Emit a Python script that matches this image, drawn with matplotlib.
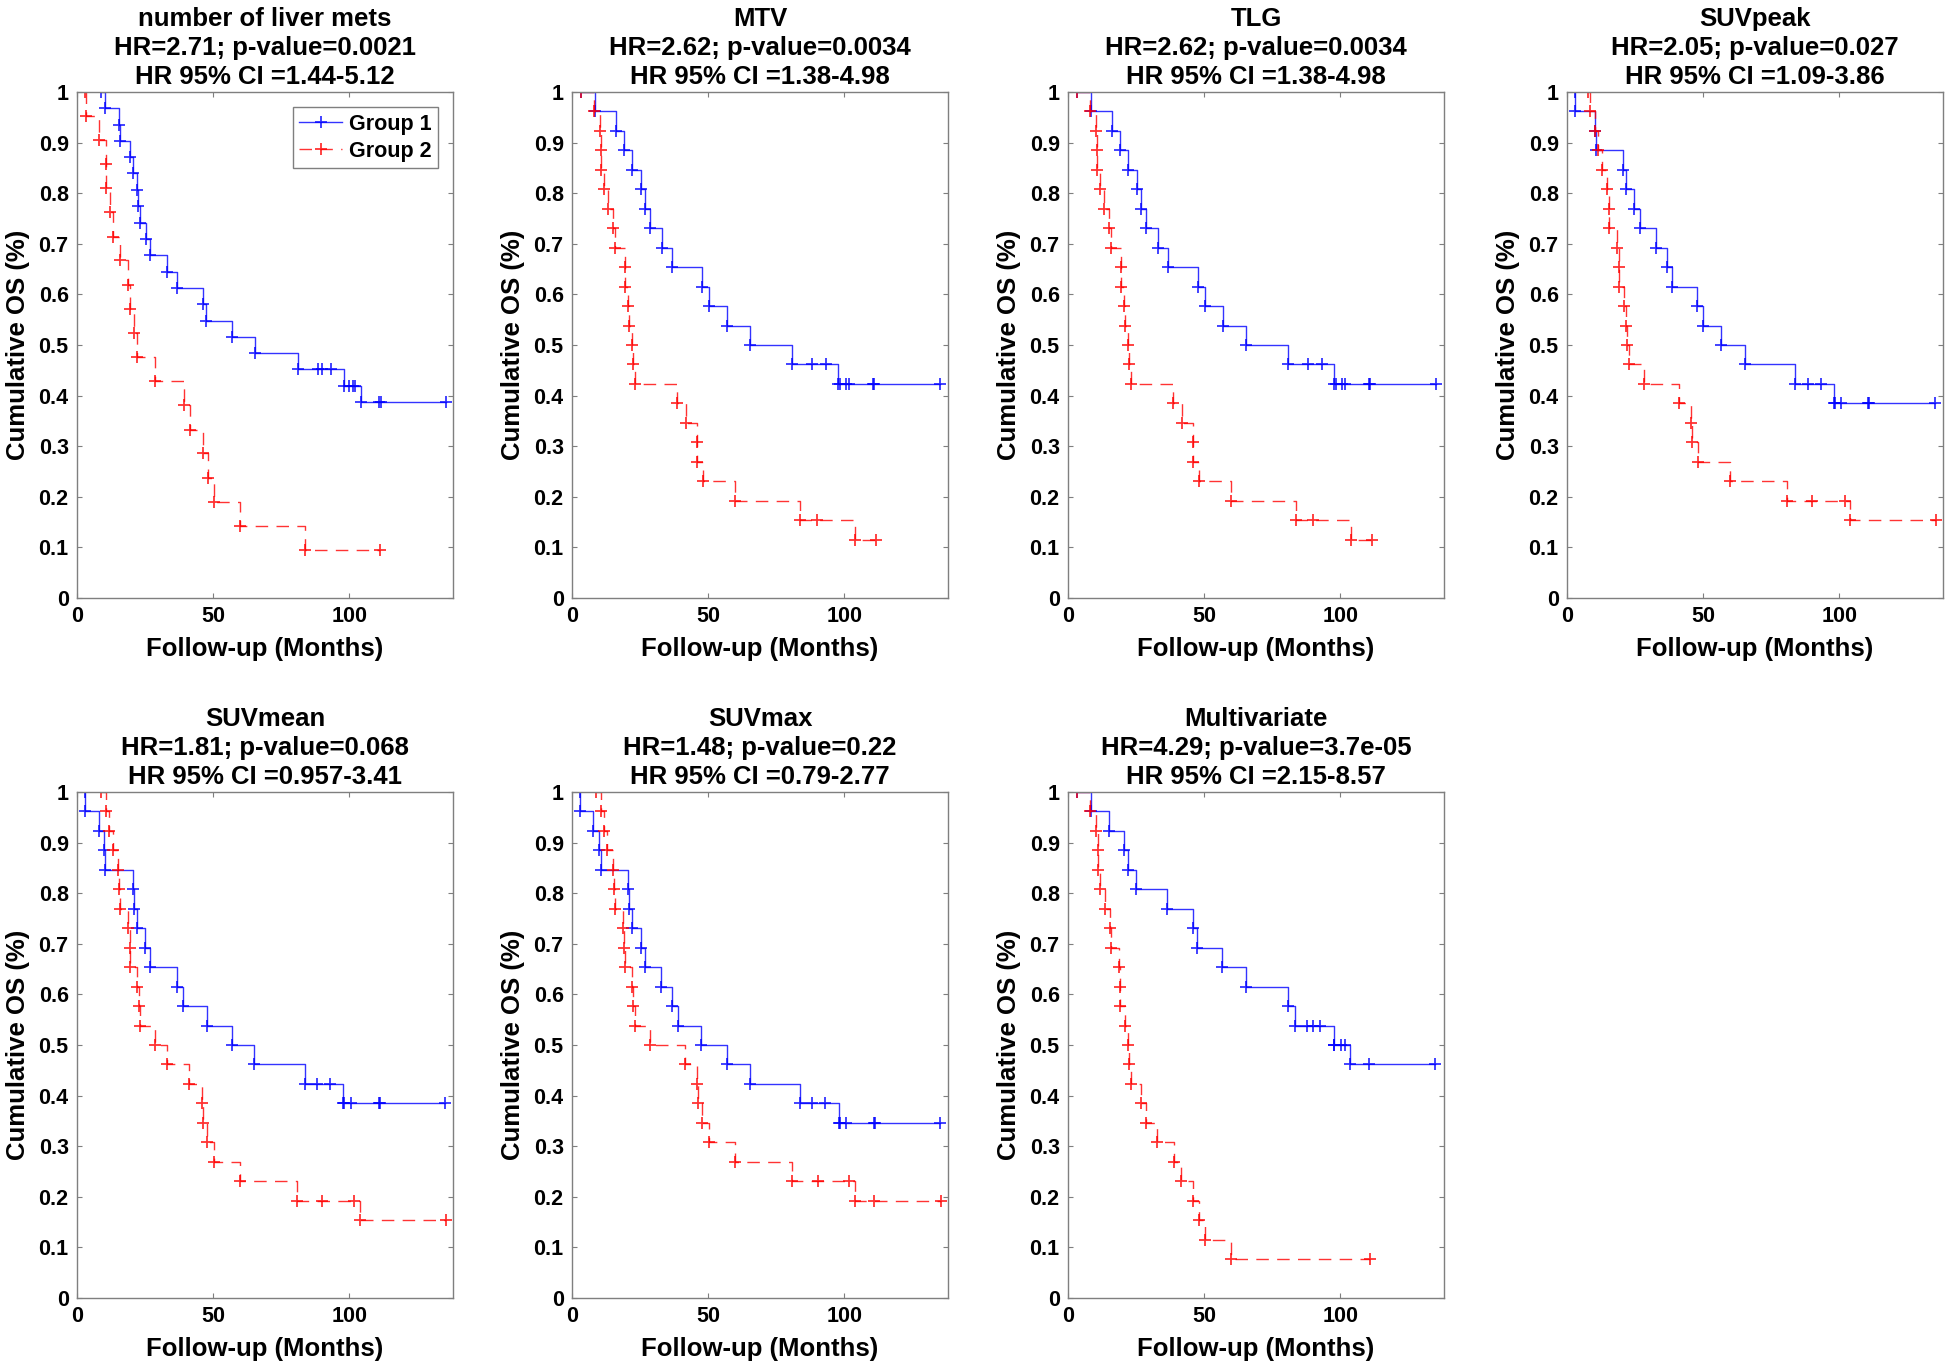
import matplotlib
matplotlib.use("Agg")
import matplotlib.pyplot as plt

plt.rcParams['font.family'] = ['Liberation Sans', 'DejaVu Sans']
plt.rcParams['font.weight'] = 'bold'

titles = [
    "number of liver mets\nHR=2.71; p-value=0.0021\nHR 95% CI =1.44-5.12",
    "MTV\nHR=2.62; p-value=0.0034\nHR 95% CI =1.38-4.98",
    "TLG\nHR=2.62; p-value=0.0034\nHR 95% CI =1.38-4.98",
    "SUVpeak\nHR=2.05; p-value=0.027\nHR 95% CI =1.09-3.86",
    "SUVmean\nHR=1.81; p-value=0.068\nHR 95% CI =0.957-3.41",
    "SUVmax\nHR=1.48; p-value=0.22\nHR 95% CI =0.79-2.77",
    "Multivariate\nHR=4.29; p-value=3.7e-05\nHR 95% CI =2.15-8.57",
]
legend_labels = ["Group 1", "Group 2"]
xticks = [0, 50, 100]
yticks = [0, 0.1, 0.2, 0.3, 0.4, 0.5, 0.6, 0.7, 0.8, 0.9, 1]
ytick_labels = ["0", "0.1", "0.2", "0.3", "0.4", "0.5", "0.6", "0.7", "0.8", "0.9", "1"]

# number of liver mets
liver_g1_t = [8.8, 10.1, 15.4, 15.9, 19.3, 20.4, 22.0, 22.4, 23.0, 25.2, 26.7, 32.9, 36.7, 46.2, 47.4,
              56.8, 65.2, 81.0, 88.6, 90.1, 93.2, 98.0, 100.0, 101.2, 102.0, 104.2, 111.0, 111.5, 135.3]
liver_g1_s = [1.0, 0.968, 0.935, 0.903, 0.871, 0.839, 0.806, 0.774, 0.742, 0.710, 0.677, 0.645, 0.613,
              0.581, 0.548, 0.516, 0.484, 0.452, 0.452, 0.452, 0.452, 0.419, 0.419, 0.419, 0.419,
              0.387, 0.387, 0.387, 0.387]
liver_g2_t = [3.1, 3.4, 7.9, 10.8, 10.8, 12.0, 13.1, 15.6, 18.9, 19.3, 20.8, 22.2, 28.7, 39.1, 41.3,
              46.1, 48.0, 50.4, 59.9, 83.7, 111.2]
liver_g2_s = [1.0, 0.952, 0.905, 0.857, 0.810, 0.762, 0.714, 0.667, 0.619, 0.571, 0.524, 0.476, 0.429,
              0.381, 0.333, 0.286, 0.238, 0.190, 0.143, 0.095, 0.095]

# MTV
mtv_g1_t = [3.4, 8.5, 16.0, 19.0, 22.2, 25.2, 26.8, 28.6, 32.9, 36.7, 47.6, 50.4, 56.9, 65.2, 80.9,
            88.2, 93.1, 97.6, 98.2, 100.6, 101.6, 110.6, 110.9, 135.2]
mtv_g1_s = [1.0, 0.962, 0.923, 0.885, 0.846, 0.808, 0.769, 0.731, 0.692, 0.654, 0.615, 0.577, 0.538,
            0.500, 0.462, 0.462, 0.462, 0.423, 0.423, 0.423, 0.423, 0.423, 0.423, 0.423]
mtv_g2_t = [3.4, 8.0, 10.1, 10.7, 10.7, 11.7, 13.2, 15.1, 15.8, 19.4, 19.4, 20.7, 21.1, 22.2, 22.4,
            23.3, 38.7, 41.7, 45.9, 46.0, 48.0, 59.8, 83.7, 90.0, 103.7, 111.4]
mtv_g2_s = [1.0, 0.962, 0.923, 0.885, 0.846, 0.808, 0.769, 0.731, 0.692, 0.654, 0.615, 0.577, 0.538,
            0.500, 0.462, 0.423, 0.385, 0.346, 0.308, 0.269, 0.231, 0.192, 0.154, 0.154, 0.115, 0.115]

# TLG
tlg_g1_t = [3.4, 8.5, 16.0, 19.0, 22.2, 25.2, 26.8, 28.6, 32.9, 36.7, 47.6, 50.4, 56.9, 65.2, 80.9,
            88.2, 93.1, 97.6, 98.2, 100.6, 101.6, 110.6, 110.9, 135.2]
tlg_g1_s = [1.0, 0.962, 0.923, 0.885, 0.846, 0.808, 0.769, 0.731, 0.692, 0.654, 0.615, 0.577, 0.538,
            0.500, 0.462, 0.462, 0.462, 0.423, 0.423, 0.423, 0.423, 0.423, 0.423, 0.423]
tlg_g2_t = [3.4, 8.0, 10.1, 10.7, 10.7, 11.7, 13.2, 15.1, 15.8, 19.4, 19.4, 20.7, 21.1, 22.2, 22.4,
            23.3, 38.7, 41.7, 45.9, 46.0, 48.0, 59.8, 83.7, 90.0, 103.7, 111.4]
tlg_g2_s = [1.0, 0.962, 0.923, 0.885, 0.846, 0.808, 0.769, 0.731, 0.692, 0.654, 0.615, 0.577, 0.538,
            0.500, 0.462, 0.423, 0.385, 0.346, 0.308, 0.269, 0.231, 0.192, 0.154, 0.154, 0.115, 0.115]

# SUVpeak
peak_g1_t = [3.1, 3.1, 10.4, 10.6, 20.6, 21.8, 24.7, 26.7, 32.7, 36.7, 38.6, 47.6, 49.9, 56.7, 65.2,
             83.6, 88.4, 93.3, 97.9, 98.2, 100.5, 110.6, 110.9, 135.0]
peak_g1_s = [1.0, 0.962, 0.923, 0.885, 0.846, 0.808, 0.769, 0.731, 0.692, 0.654, 0.615, 0.577, 0.538,
             0.500, 0.462, 0.423, 0.423, 0.423, 0.385, 0.385, 0.385, 0.385, 0.385, 0.385]
peak_g2_t = [7.7, 8.3, 10.2, 11.3, 12.9, 14.7, 15.3, 15.5, 18.5, 19.0, 19.0, 20.8, 21.8, 22.0, 22.9,
             28.3, 41.2, 45.4, 45.8, 47.9, 59.7, 80.9, 90.1, 102.2, 103.9, 135.5]
peak_g2_s = [1.0, 0.962, 0.923, 0.885, 0.846, 0.808, 0.769, 0.731, 0.692, 0.654, 0.615, 0.577, 0.538,
             0.500, 0.462, 0.423, 0.385, 0.346, 0.308, 0.269, 0.231, 0.192, 0.192, 0.192, 0.154, 0.154]

# SUVmean
mean_g1_t = [3.0, 3.0, 7.9, 10.0, 10.4, 20.7, 21.0, 22.2, 24.9, 26.7, 36.6, 38.8, 47.6, 56.8, 65.0,
             83.5, 88.0, 93.0, 97.8, 98.0, 100.6, 110.8, 111.1, 135.0]
mean_g1_s = [1.0, 0.962, 0.923, 0.885, 0.846, 0.808, 0.769, 0.731, 0.692, 0.654, 0.615, 0.577, 0.538,
             0.500, 0.462, 0.423, 0.423, 0.423, 0.385, 0.385, 0.385, 0.385, 0.385, 0.385]
mean_g2_t = [8.8, 10.6, 11.8, 13.3, 15.2, 15.5, 15.9, 18.8, 19.3, 19.4, 22.2, 22.6, 23.0, 28.7, 32.9,
             41.2, 45.7, 46.2, 47.8, 50.2, 60.0, 80.7, 90.1, 101.8, 103.9, 135.4]
mean_g2_s = [1.0, 0.962, 0.923, 0.885, 0.846, 0.808, 0.769, 0.731, 0.692, 0.654, 0.615, 0.577, 0.538,
             0.500, 0.462, 0.423, 0.385, 0.346, 0.308, 0.269, 0.231, 0.192, 0.192, 0.192, 0.154, 0.154]

# SUVmax
max_g1_t = [3.1, 3.1, 7.7, 9.9, 10.5, 20.5, 20.9, 22.1, 25.2, 26.7, 32.8, 36.7, 38.9, 47.4, 56.8,
            65.2, 83.7, 88.1, 93.0, 97.9, 98.5, 100.7, 110.8, 111.1, 135.2]
max_g1_s = [1.0, 0.962, 0.923, 0.885, 0.846, 0.808, 0.769, 0.731, 0.692, 0.654, 0.615, 0.577, 0.538,
            0.500, 0.462, 0.423, 0.385, 0.385, 0.385, 0.346, 0.346, 0.346, 0.346, 0.346, 0.346]
max_g2_t = [8.7, 10.8, 11.7, 13.0, 15.0, 15.4, 15.6, 18.6, 19.1, 19.3, 22.0, 22.4, 23.0, 28.5, 41.3,
            45.8, 46.2, 47.8, 50.2, 59.9, 80.8, 90.2, 101.8, 103.9, 111.0, 135.5]
max_g2_s = [1.0, 0.962, 0.923, 0.885, 0.846, 0.808, 0.769, 0.731, 0.692, 0.654, 0.615, 0.577, 0.538,
            0.500, 0.462, 0.423, 0.385, 0.346, 0.308, 0.269, 0.231, 0.231, 0.231, 0.192, 0.192, 0.192]

# Multivariate
multi_g1_t = [3.3, 8.5, 15.2, 20.7, 21.9, 24.9, 36.5, 45.9, 47.4, 56.7, 65.2, 80.6, 83.2, 87.8, 89.9,
              92.6, 97.5, 97.8, 100.2, 101.7, 103.4, 110.6, 134.6]
multi_g1_s = [1.0, 0.962, 0.923, 0.885, 0.846, 0.808, 0.769, 0.731, 0.692, 0.654, 0.615, 0.577, 0.538,
              0.538, 0.538, 0.538, 0.500, 0.500, 0.500, 0.500, 0.462, 0.462, 0.462]
multi_g2_t = [3.3, 8.1, 10.1, 10.9, 10.9, 11.8, 13.5, 15.4, 15.8, 18.8, 19.2, 19.2, 21.0, 22.0, 22.4,
              23.1, 26.7, 28.6, 32.7, 38.8, 41.6, 45.8, 48.0, 50.2, 59.8, 110.8]
multi_g2_s = [1.0, 0.962, 0.923, 0.885, 0.846, 0.808, 0.769, 0.731, 0.692, 0.654, 0.615, 0.577, 0.538,
              0.500, 0.462, 0.423, 0.385, 0.346, 0.308, 0.269, 0.231, 0.192, 0.154, 0.115, 0.077, 0.077]

panels = [
    (liver_g1_t, liver_g1_s, liver_g2_t, liver_g2_s),
    (mtv_g1_t, mtv_g1_s, mtv_g2_t, mtv_g2_s),
    (tlg_g1_t, tlg_g1_s, tlg_g2_t, tlg_g2_s),
    (peak_g1_t, peak_g1_s, peak_g2_t, peak_g2_s),
    (mean_g1_t, mean_g1_s, mean_g2_t, mean_g2_s),
    (max_g1_t, max_g1_s, max_g2_t, max_g2_s),
    (multi_g1_t, multi_g1_s, multi_g2_t, multi_g2_s),
]

W, H = 1950, 1369
fig = plt.figure(figsize=(W / 100, H / 100), dpi=100)
col_left = [77, 572, 1068, 1567]
row_top = [92, 792]
ax_w, ax_h = 376, 506
edge = '#7f7f7f'

for i, (g1t, g1s, g2t, g2s) in enumerate(panels):
    r, c = divmod(i, 4)
    left = col_left[c] / W
    bottom = 1 - (row_top[r] + ax_h) / H
    ax = fig.add_axes([left, bottom, ax_w / W, ax_h / H])
    ax.step(g1t, g1s, where='post', color='#0000ff', lw=1.0, alpha=0.8,
            marker='+', ms=9, mew=1.3, label=legend_labels[0])
    ax.step(g2t, g2s, where='post', color='#ff0000', lw=1.0, alpha=0.8,
            linestyle=(0, (9, 6)), marker='+', ms=9, mew=1.3, label=legend_labels[1])
    ax.set_xlim(0, 138)
    ax.set_ylim(0, 1)
    ax.set_xticks(xticks)
    ax.set_xticklabels([str(v) for v in xticks])
    ax.set_yticks(yticks)
    ax.set_yticklabels(ytick_labels)
    ax.tick_params(direction='in', length=3.5, width=0.8, color=edge, labelsize=15.5,
                   top=True, right=True, pad=6)
    for lab in ax.get_xticklabels() + ax.get_yticklabels():
        lab.set_fontweight('bold')
    for sp in ax.spines.values():
        sp.set_color(edge)
        sp.set_linewidth(1.0)
    ax.set_xlabel("Follow-up (Months)", fontsize=18.5, fontweight='bold', labelpad=7)
    ax.set_ylabel("Cumulative OS (%)", fontsize=18.5, fontweight='bold', labelpad=6)
    ax.set_title(titles[i], fontsize=18.5, fontweight='bold', pad=6, linespacing=1.25)
    if i == 0:
        leg = ax.legend(loc='upper right', fontsize=15.5, numpoints=1, handlelength=2.0,
                        fancybox=False, framealpha=1, edgecolor=edge,
                        borderaxespad=0.7, handletextpad=0.3, borderpad=0.3,
                        labelspacing=0.3)
        leg.get_frame().set_linewidth(1.0)
        for t in leg.get_texts():
            t.set_fontweight('bold')

fig.savefig("out.png", dpi=100)
